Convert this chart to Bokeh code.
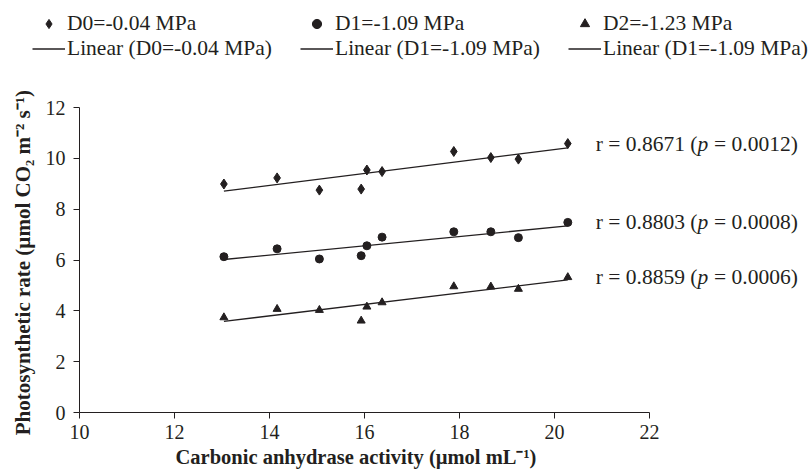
import numpy as np
from bokeh.plotting import figure
from bokeh.layouts import column
from bokeh.models import Legend, LegendItem, Label, FixedTicker, Range1d, Title
from bokeh.embed import file_html
from bokeh.resources import INLINE

# ---- data ----
ca_activity = [13.04, 14.16, 15.05, 15.93, 16.05, 16.37, 17.88, 18.66, 19.24, 20.28]
d0_rate = [8.99, 9.23, 8.75, 8.79, 9.54, 9.48, 10.27, 10.03, 9.97, 10.58]
d1_rate = [6.13, 6.44, 6.04, 6.17, 6.56, 6.90, 7.11, 7.11, 6.88, 7.48]
d2_rate = [3.74, 4.07, 4.03, 3.61, 4.16, 4.33, 4.96, 4.95, 4.86, 5.32]

series_labels = ["D0=-0.04 MPa", "D1=-1.09 MPa", "D2=-1.23 MPa"]
linear_labels = ["Linear (D0=-0.04 MPa)", "Linear (D1=-1.09 MPa)", "Linear (D1=-1.09 MPa)"]
r_values = ["0.8671", "0.8803", "0.8859"]
p_values = ["0.0012", "0.0008", "0.0006"]
x_ticks = [10, 12, 14, 16, 18, 20, 22]
y_ticks = [0, 2, 4, 6, 8, 10, 12]

FONT = "Liberation Serif"
INK = "#231f20"

W = 810
LEG_H = 60
MAIN_H = 415
FRAME_LEFT = 79
PX_PER_X = 47.5
x_end = 10 + (W - FRAME_LEFT) / PX_PER_X   # frame extends to the right edge

markers = ["diamond", "circle", "triangle"]
sizes = [10, 8, 8]
legend_sizes = [8, 6.5, 6.5]
all_rates = [d0_rate, d1_rate, d2_rate]

# ---------- main plot ----------
p = figure(width=W, height=MAIN_H, output_backend="svg", toolbar_location=None,
           x_range=Range1d(10, x_end), y_range=Range1d(0, 12),
           min_border_left=FRAME_LEFT, min_border_right=0,
           min_border_top=107 - LEG_H, min_border_bottom=63)
p.frame_align = False
p.outline_line_color = None
p.xgrid.visible = False
p.ygrid.visible = False

for ax in (p.xaxis[0], p.yaxis[0]):
    ax.axis_line_color = INK
    ax.axis_line_width = 1
    ax.major_tick_line_color = INK
    ax.major_tick_out = 6
    ax.major_tick_in = 0
    ax.minor_tick_line_color = None
    ax.major_label_text_font = FONT
    ax.major_label_text_font_size = "20px"
    ax.major_label_text_color = INK
    ax.axis_label_text_font = FONT
    ax.axis_label_text_font_size = "21px"
    ax.axis_label_text_font_style = "bold"
    ax.axis_label_text_color = INK

p.xaxis.ticker = FixedTicker(ticks=x_ticks)
p.yaxis.ticker = FixedTicker(ticks=y_ticks)
p.xaxis.bounds = (10, 22)
p.yaxis.major_label_standoff = 8
p.yaxis.axis_label_standoff = 8
p.xaxis.major_label_standoff = 6
p.yaxis.axis_label = "Photosynthetic rate  (\u00b5mol CO\u2082 m\u207b\u00b2 s\u207b\u00b9)"

# x-axis title (placed under the axis, left-aligned with an offset so it is
# centred under the 10-22 span rather than the extended frame)
p.add_layout(Title(text="Carbonic anhydrase activity (\u00b5mol mL\u207b\u00b9)",
                   align="left", offset=96, standoff=4,
                   text_font=FONT, text_font_size="20.5px", text_font_style="bold",
                   text_color=INK), "below")

x_arr = np.array(ca_activity)
for i, rates in enumerate(all_rates):
    y_arr = np.array(rates)
    slope, intercept = np.polyfit(x_arr, y_arr, 1)
    xl = np.array([x_arr.min(), x_arr.max()])
    p.line(xl, slope * xl + intercept, line_color=INK, line_width=1.3)
    p.scatter(ca_activity, rates, marker=markers[i], size=sizes[i],
              fill_color=INK, line_color=INK)

    # correlation annotation
    w1 = 101.7
    wp = 11.2
    common = dict(x=ca_activity[-1], y=rates[-1], text_baseline="middle",
                  text_font=FONT, text_font_size="21.5px", text_color=INK)
    p.add_layout(Label(x_offset=28, text="r = " + r_values[i] + " (", **common))
    p.add_layout(Label(x_offset=28 + w1, text="p", text_font_style="italic", **common))
    p.add_layout(Label(x_offset=28 + w1 + wp, text="\u00a0= " + p_values[i] + ")", **common))

# ---------- legend strip ----------
lg = figure(width=W, height=LEG_H, output_backend="svg", toolbar_location=None,
            x_range=Range1d(0, 1), y_range=Range1d(0, 1),
            x_axis_type=None, y_axis_type=None,
            min_border_left=0, min_border_right=0, min_border_top=0, min_border_bottom=0)
lg.frame_align = False
lg.outline_line_color = None
lg.xgrid.visible = False
lg.ygrid.visible = False

legend_x = [32, 300, 568]
for i in range(3):
    # proxies for the legend: same series, out of this strip's visible range
    sc_r = lg.scatter(x=ca_activity, y=all_rates[i], marker=markers[i], size=legend_sizes[i],
                      fill_color=INK, line_color=INK)
    ln_r = lg.line(x=ca_activity, y=all_rates[i], line_color=INK, line_width=1.3)
    leg = Legend(items=[LegendItem(label=series_labels[i], renderers=[sc_r]),
                        LegendItem(label=linear_labels[i], renderers=[ln_r])],
                 location=(legend_x[i], -1), orientation="vertical",
                 padding=0, margin=0, spacing=0,
                 glyph_width=33, glyph_height=23, label_height=23,
                 label_standoff=2,
                 label_text_font=FONT, label_text_font_size="21.5px",
                 label_text_color=INK,
                 background_fill_alpha=0, border_line_alpha=0)
    lg.add_layout(leg)

layout = column(lg, p, spacing=0)
open("out.html", "w").write(file_html(layout, INLINE))
